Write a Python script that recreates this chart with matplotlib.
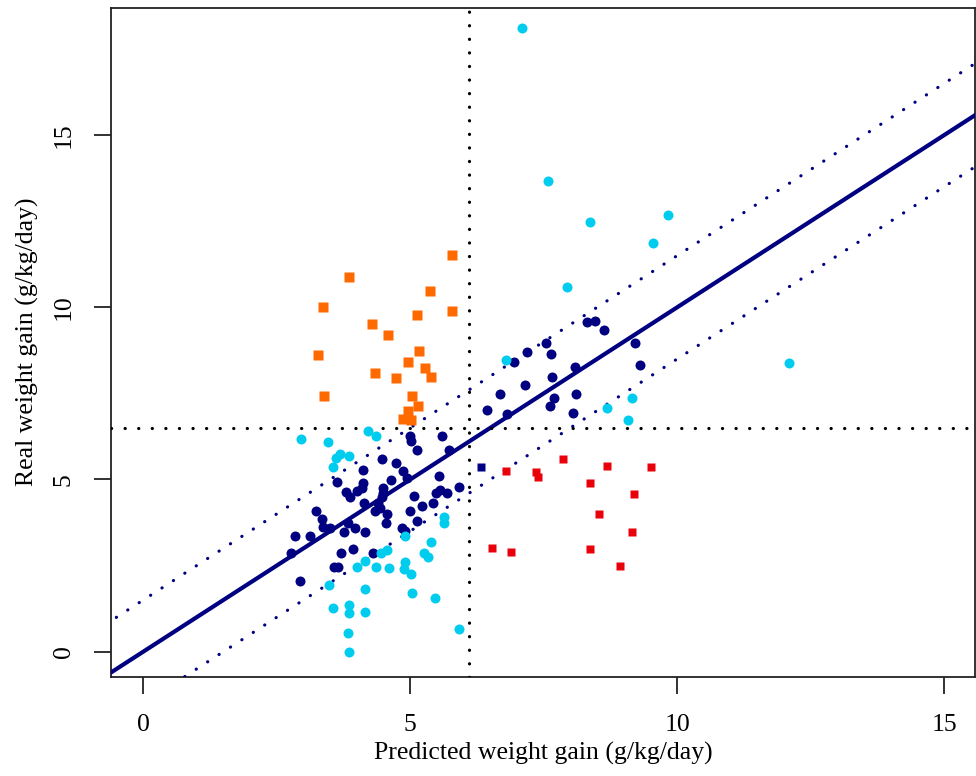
import numpy as np
import matplotlib.pyplot as plt

plt.rcParams['font.family'] = ['Liberation Serif', 'DejaVu Serif']

# navy circles
navy_x = [5.00, 5.02, 5.59, 5.12, 5.72, 4.47, 4.73, 4.11, 4.87, 4.64, 4.94, 5.54,
          3.63, 4.12, 4.10, 5.91, 4.48, 3.80, 4.01, 4.49, 5.48, 5.56, 5.69, 3.87,
          4.47, 5.06, 4.14, 4.40, 5.43, 5.22, 4.33, 4.43, 4.57, 3.23, 4.99, 3.34,
          5.13, 3.83, 4.54, 3.36, 3.49, 3.97, 4.84, 3.76, 4.15, 4.90, 2.85, 3.13,
          2.77, 3.93, 3.71, 4.31, 3.58, 3.65, 2.94,
          8.31, 8.45, 8.63, 7.54, 7.19, 7.63, 9.20, 6.95, 9.31, 8.08, 7.65, 7.15,
          6.68, 8.11, 7.70, 7.62, 6.44, 8.04, 6.82]
navy_y = [6.27, 6.13, 6.26, 5.85, 5.85, 5.58, 5.49, 5.27, 5.25, 4.98, 5.03, 5.09,
          4.93, 4.89, 4.76, 4.79, 4.76, 4.64, 4.66, 4.62, 4.60, 4.69, 4.61, 4.50,
          4.48, 4.53, 4.32, 4.33, 4.32, 4.22, 4.08, 4.16, 4.01, 4.08, 4.09, 3.85,
          3.79, 3.74, 3.74, 3.61, 3.59, 3.59, 3.59, 3.47, 3.47, 3.51, 3.37, 3.35,
          2.85, 2.99, 2.85, 2.87, 2.46, 2.46, 2.04,
          9.58, 9.61, 9.34, 8.97, 8.69, 8.63, 8.96, 8.40, 8.32, 8.27, 7.98, 7.74,
          7.47, 7.47, 7.36, 7.13, 7.01, 6.92, 6.89]

# cyan circles
cyan_x = [2.95, 3.46, 4.20, 4.35, 3.68, 3.60, 3.86, 3.56, 5.63, 5.63, 4.91, 5.39,
          4.56, 4.45, 5.26, 5.33, 4.16, 4.00, 4.35, 4.60, 4.90, 4.88, 5.02, 3.48,
          4.16, 5.03, 5.47, 3.56, 3.86, 3.86, 4.16, 5.91, 3.84, 3.86,
          6.79, 8.68, 9.15, 9.08, 7.09, 7.58, 8.37, 9.83, 9.54, 7.94, 12.09]
cyan_y = [6.17, 6.10, 6.41, 6.27, 5.75, 5.63, 5.68, 5.37, 3.92, 3.74, 3.35, 3.18,
          2.95, 2.86, 2.86, 2.76, 2.62, 2.47, 2.46, 2.43, 2.61, 2.40, 2.26, 1.94,
          1.81, 1.69, 1.56, 1.27, 1.35, 1.13, 1.14, 0.67, 0.53, 0.00,
          8.48, 7.08, 7.36, 6.72, 18.10, 13.66, 12.47, 12.67, 11.87, 10.59, 8.39]

# orange squares
orange_x = [5.78, 3.85, 5.36, 3.36, 5.79, 5.13, 4.28, 4.58, 5.16, 3.27, 4.95,
            5.27, 4.33, 5.39, 4.73, 3.38, 5.03, 5.14, 4.95, 4.86, 5.01]
orange_y = [11.52, 10.87, 10.47, 10.01, 9.89, 9.77, 9.52, 9.18, 8.74, 8.61, 8.40,
            8.24, 8.09, 7.97, 7.94, 7.42, 7.42, 7.14, 7.00, 6.75, 6.72]

# red squares
red_x = [7.86, 8.69, 9.51, 6.79, 7.35, 7.39, 8.36, 9.19, 8.54, 9.16, 6.53, 6.89,
         8.36, 8.93]
red_y = [5.58, 5.40, 5.35, 5.24, 5.23, 5.08, 4.91, 4.58, 4.01, 3.48, 3.01, 2.90,
         2.98, 2.50]

# single navy square
sq_x = [6.33]
sq_y = [5.37]

# fit line y = a + b*x with +/- band, thresholds
fit_a = 0.0
fit_b = 1.0
band = 1.5
x_cut = 6.1
y_cut = 6.5

navy = '#000080'
cyan = '#00CCEE'
orange = '#FF6A00'
red = '#E8000B'

fig = plt.figure(figsize=(9.76, 7.76), dpi=100)
ax = fig.add_axes([0.1137, 0.128, 0.8856, 0.8623])

xx = np.array([-2, 18])
ax.plot(xx, fit_a + fit_b * xx, color=navy, lw=3, solid_capstyle='butt', zorder=3)
for off in (band, -band):
    ax.plot(xx, fit_a + off + fit_b * xx, color=navy, lw=2.3,
            linestyle=(0, (0.05, 4.2)), dash_capstyle='round', zorder=3)
ax.axvline(x_cut, color='black', lw=2.3, linestyle=(0, (0.05, 4.2)),
           dash_capstyle='round', zorder=3)
ax.axhline(y_cut, color='black', lw=2.3, linestyle=(0, (0.05, 4.2)),
           dash_capstyle='round', zorder=3)

ax.plot(navy_x, navy_y, 'o', color=navy, ms=7.2, mec='none', zorder=4)
ax.plot(cyan_x, cyan_y, 'o', color=cyan, ms=7.2, mec='none', zorder=4)
ax.plot(orange_x, orange_y, 's', color=orange, ms=7.2, mec='none', zorder=4)
ax.plot(red_x, red_y, 's', color=red, ms=5.2, mec='none', zorder=4)
ax.plot(sq_x, sq_y, 's', color=navy, ms=5.2, mec='none', zorder=4)

ax.set_xlim(-0.605, 15.58)
ax.set_ylim(-0.726, 18.70)
ax.set_xticks([0, 5, 10, 15])
ax.set_yticks([0, 5, 10, 15])

for s in ax.spines.values():
    s.set_linewidth(1.3)
    s.set_color('#222222')
ax.tick_params(direction='out', length=12, width=1.3, color='#222222',
               labelsize=18.5, pad=15)
ax.tick_params(axis='y', labelrotation=90, pad=14)
for lab in ax.get_yticklabels():
    lab.set_va('center')

ax.set_xlabel('Predicted weight gain (g/kg/day)', fontsize=18.5, labelpad=4)
ax.set_ylabel('Real weight gain (g/kg/day)', fontsize=18.5, labelpad=10)

fig.savefig('out.png', dpi=100)
